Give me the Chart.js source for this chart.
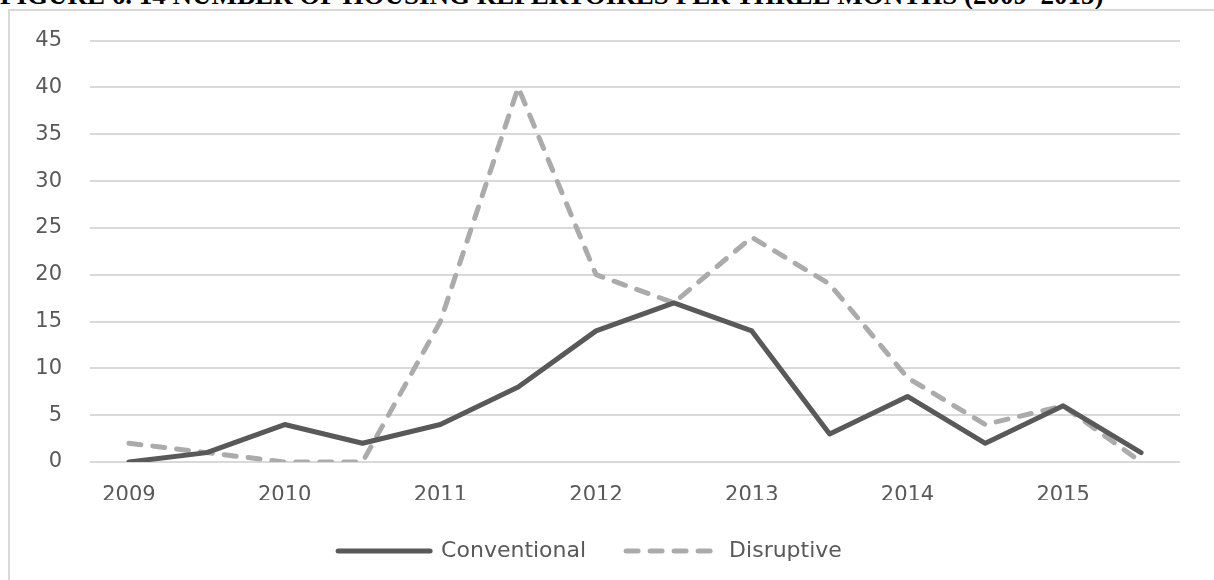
<!DOCTYPE html>
<html>
<head>
<meta charset="utf-8">
<script src="https://cdn.jsdelivr.net/npm/chart.js@4.4.0/dist/chart.umd.min.js"></script>
<style>
    body { margin: 0; background: #fff; overflow: hidden; }
    #wrap { position: relative; width: 1214px; height: 580px; overflow: hidden; }
    #title {
        position: absolute; left: 0; top: -18px; white-space: nowrap;
        font-family: "Liberation Serif", serif; font-weight: bold;
        font-size: 27px; line-height: 27px; color: #000;
    }
    #frame {
        position: absolute; left: 8px; top: 9px; width: 1300px; height: 700px;
        border-left: 2px solid #d9d9d9; border-top: 2px solid #d9d9d9;
    }
    #myChart { position: absolute; left: 0; top: 0; }
</style>
</head>
<body>
<div id="wrap">
    <div id="title">FIGURE 6. 14 NUMBER OF HOUSING REPERTOIRES PER THREE MONTHS (2009–2015)</div>
    <div id="frame"></div>
    <canvas id="myChart" width="1214" height="580"></canvas>
</div>
<script>
// half-year periods, only the first half of each year gets a label
const periods = ['2009', '', '2010', '', '2011', '', '2012', '', '2013', '', '2014', '', '2015', '']
const conventional = [0, 1, 4, 2, 4, 8, 14, 17, 14, 3, 7, 2, 6, 1]
const disruptive = [2, 1, 0, 0, 15, 40, 20, 17, 24, 19, 9, 4, 6, 0]
const yTicks = [0, 5, 10, 15, 20, 25, 30, 35, 40, 45]

const txtColor = '#595959'

const ctx1 = document.getElementById('myChart')

new Chart(ctx1, {
    type: 'line',
    data: {
        labels: periods,
        datasets: [{
            label: 'Conventional',
            data: conventional,
            borderColor: '#595959',
            backgroundColor: '#595959',
            borderWidth: 5,
            pointRadius: 0,
            pointStyle: 'line',
            tension: 0,
            borderJoinStyle: 'round',
            borderCapStyle: 'round',
        }, {
            label: 'Disruptive',
            data: disruptive,
            borderColor: '#ababab',
            backgroundColor: '#ababab',
            borderWidth: 5,
            borderDash: [12, 12],
            borderCapStyle: 'round',
            borderJoinStyle: 'round',
            pointRadius: 0,
            pointStyle: 'line',
            tension: 0,
        }]
    },
    options: {
        responsive: false,
        animation: false,
        layout: {
            padding: { left: 0, right: 34, top: 38, bottom: 8 }
        },
        scales: {
            x: {
                offset: true,
                grid: { display: false, drawTicks: false },
                border: { display: false },
                afterFit: s => { s.height = 38 },
                ticks: {
                    autoSkip: false,
                    maxRotation: 0,
                    color: txtColor,
                    padding: 21,
                    font: { family: 'DejaVu Sans', size: 21 },
                },
            },
            y: {
                min: 0,
                max: 45,
                afterFit: s => { s.width = 90 },
                afterBuildTicks: s => { s.ticks = yTicks.map(v => ({ value: v })) },
                grid: { color: '#d9d9d9', lineWidth: 2, drawTicks: false },
                border: { display: false },
                ticks: {
                    color: txtColor,
                    padding: 28,
                    font: { family: 'DejaVu Sans', size: 21 },
                },
            },
        },
        plugins: {
            tooltip: { enabled: false },
            legend: {
                position: 'bottom',
                labels: {
                    usePointStyle: true,
                    pointStyleWidth: 92,
                    color: txtColor,
                    padding: 40,
                    font: { family: 'DejaVu Sans', size: 22 },
                    generateLabels: chart => {
                        const items = Chart.defaults.plugins.legend.labels.generateLabels(chart)
                        items.forEach(item => {
                            const ds = chart.data.datasets[item.datasetIndex]
                            item.lineDash = ds.borderDash || []
                            item.lineWidth = ds.borderWidth
                            item.strokeStyle = ds.borderColor
                            item.lineCap = 'round'
                        })
                        return items
                    },
                },
            },
        },
    },
})
</script>
</body>
</html>
